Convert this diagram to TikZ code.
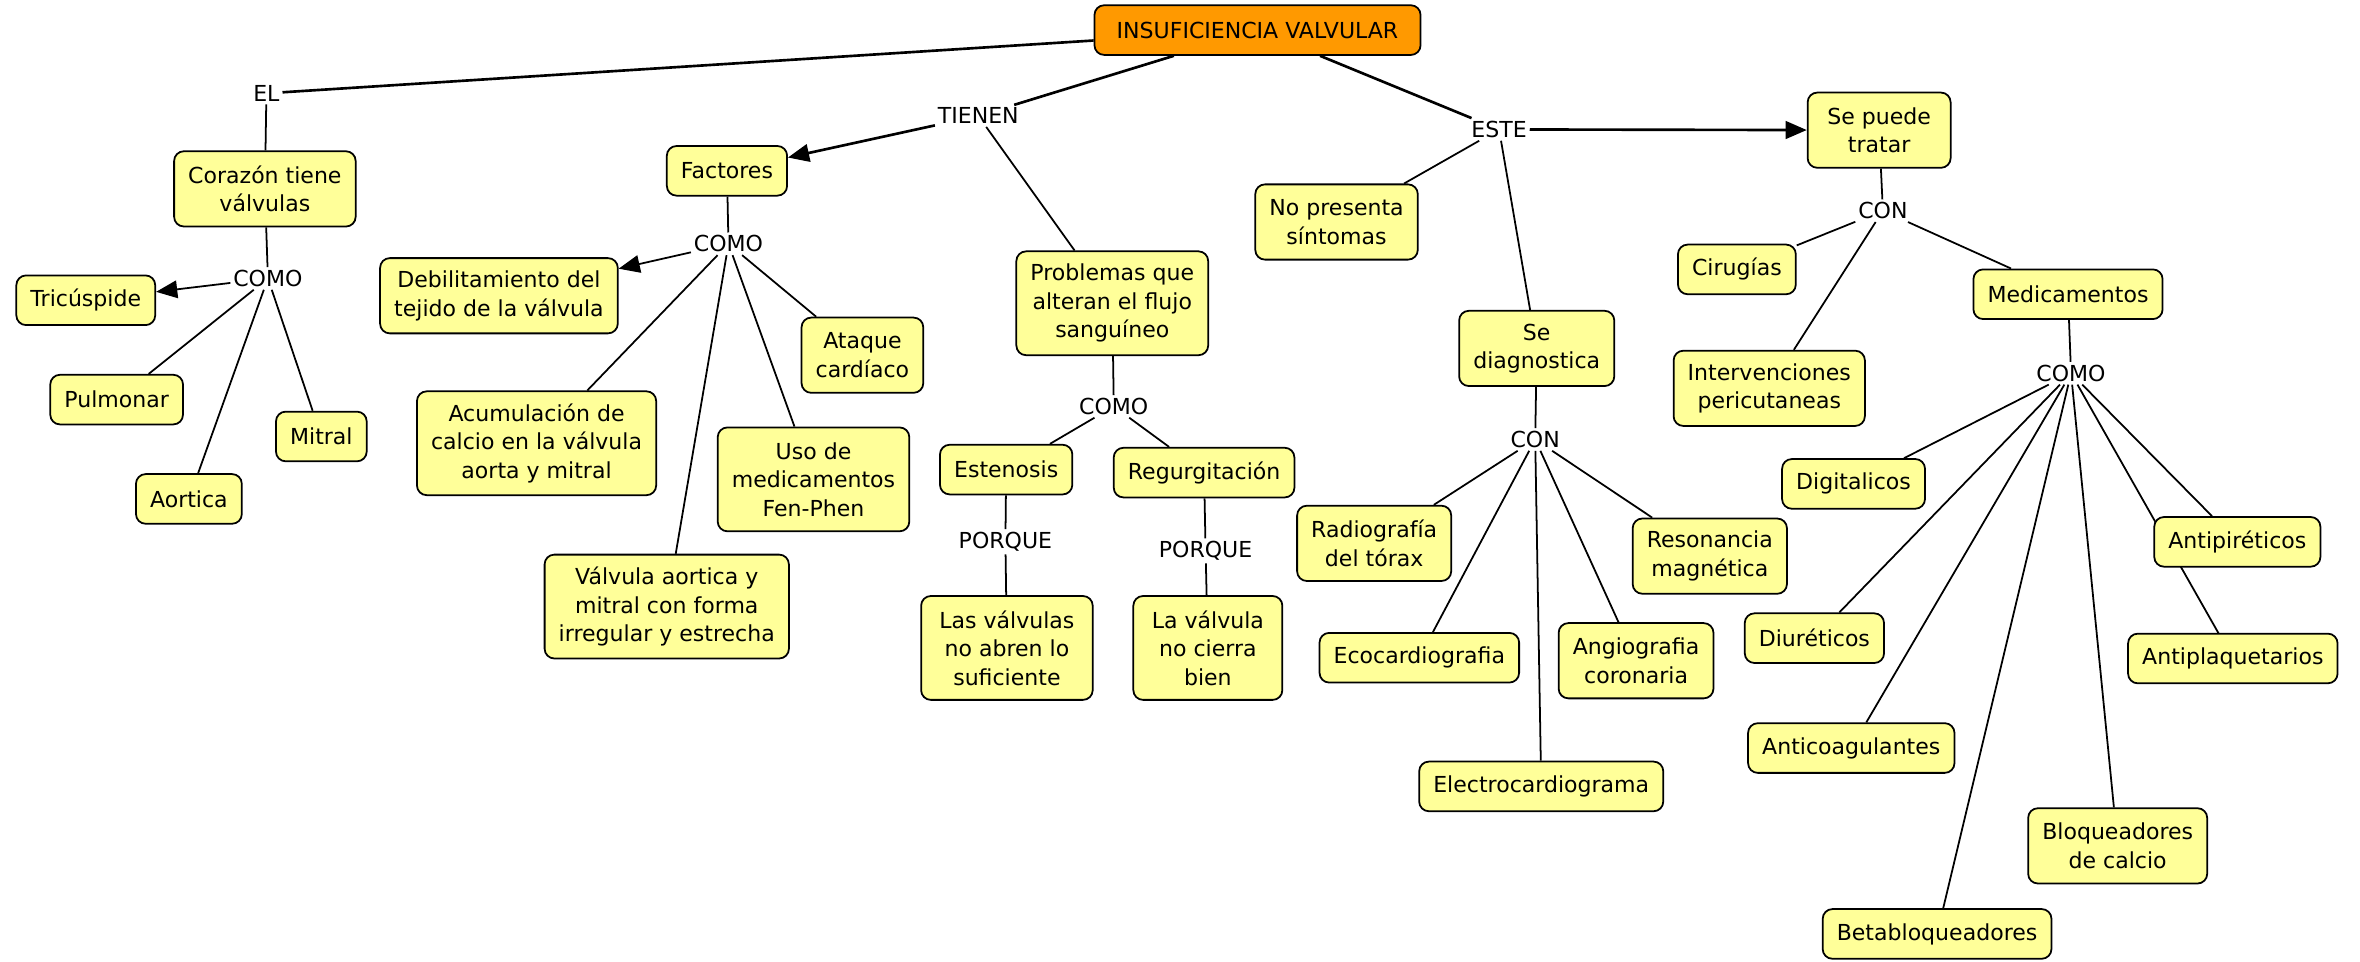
\documentclass[tikz,border=0pt]{standalone}
\usepackage{fontspec}
\setmainfont{DejaVu Sans}
\usetikzlibrary{positioning, arrows.meta, backgrounds}

\definecolor{conceptyellow}{RGB}{255,255,153}
\definecolor{rootorange}{RGB}{255,153,0}

\tikzset{
    concept/.style={draw, line width=1pt, rounded corners=5.5pt, fill=conceptyellow,
        align=center, inner xsep=8pt, inner ysep=4pt, minimum height=0.99cm,
        font=\fontsize{12.5}{16.2}\selectfont},
    two/.style={minimum height=1.5cm},
    three/.style={minimum height=2.07cm},
    root/.style={concept, fill=rootorange},
    linkword/.style={inner sep=1.5pt, font=\fontsize{12.5}{15}\selectfont},
    link/.style={line width=1pt},
    mainlink/.style={line width=1.5pt},
    >={Triangle[length=12pt, width=10pt]}
}

\begin{document}
\begin{tikzpicture}[x=0.3mm, y=-0.3mm]
    \useasboundingbox (0,0) rectangle (1568,638.5);

    % top
    \node[root, minimum width=6.5cm] (root) at (835.5,20) {INSUFICIENCIA VALVULAR};
    \node[linkword] (el) at (177,62) {EL};
    \node[linkword] (tienen) at (650,77) {TIENEN};
    \node[linkword] (este) at (996,86) {ESTE};

    % corazon
    \node[concept, two] (corazon) at (176,125.5) {Corazón tiene\\válvulas};
    \node[linkword] (comoA) at (178,185) {COMO};
    \node[concept] (tricuspide) at (57,199.5) {Tricúspide};
    \node[concept] (pulmonar) at (77.5,265.5) {Pulmonar};
    \node[concept] (aortica) at (125.5,331.5) {Aortica};
    \node[concept] (mitral) at (213.5,290) {Mitral};

    % factores
    \node[concept] (factores) at (483,113.5) {Factores};
    \node[linkword] (comoB) at (484,162) {COMO};
    \node[concept, two] (debilitamiento) at (331.5,196.5) {Debilitamiento del\\tejido de la válvula};
    \node[concept, two] (ataque) at (573,236) {Ataque\\cardíaco};
    \node[concept, three] (acumulacion) at (356.5,294.5) {Acumulación de\\calcio en la válvula\\aorta y mitral};
    \node[concept, three] (fenphen) at (540.5,318.5) {Uso de\\medicamentos\\Fen-Phen};
    \node[concept, three] (irregular) at (443,403) {Válvula aortica y\\mitral con forma\\irregular y estrecha};

    % problemas
    \node[concept, three] (problemas) at (739,201.5) {Problemas que\\alteran el flujo\\sanguíneo};
    \node[linkword] (comoC) at (740,270) {COMO};
    \node[concept] (estenosis) at (668.5,312) {Estenosis};
    \node[concept] (regurgitacion) at (800,314) {Regurgitación};
    \node[linkword] (porqueA) at (668,360) {PORQUE};
    \node[linkword] (porqueB) at (801,366) {PORQUE};
    \node[concept, three, minimum width=3.42cm] (noabren) at (669,430.5) {Las válvulas\\no abren lo\\suficiente};
    \node[concept, three, minimum width=2.97cm] (nocierra) at (802.5,430.5) {La válvula\\no cierra\\bien};

    % diagnostico
    \node[concept, two] (sintomas) at (888,147.5) {No presenta\\síntomas};
    \node[concept, two] (diagnostica) at (1021,231.5) {Se\\diagnostica};
    \node[linkword] (conA) at (1020,292) {CON};
    \node[concept, two] (radiografia) at (913,361) {Radiografía\\del tórax};
    \node[concept] (eco) at (943,437) {Ecocardiografia};
    \node[concept] (electro) at (1024,522.5) {Electrocardiograma};
    \node[concept, two] (angio) at (1087,439) {Angiografia\\coronaria};
    \node[concept, two] (resonancia) at (1136,369.5) {Resonancia\\magnética};

    % tratamiento
    \node[concept, two, minimum width=2.85cm] (tratar) at (1248.5,86.5) {Se puede\\tratar};
    \node[linkword] (conB) at (1251,140) {CON};
    \node[concept] (cirugias) at (1154,179) {Cirugías};
    \node[concept, two] (intervenciones) at (1175.5,258) {Intervenciones\\pericutaneas};
    \node[concept] (medicamentos) at (1374,195.5) {Medicamentos};
    \node[linkword] (comoD) at (1376,248) {COMO};
    \node[concept] (digitalicos) at (1231.5,321.5) {Digitalicos};
    \node[concept] (diureticos) at (1205.5,424) {Diuréticos};
    \node[concept] (anticoag) at (1230,497) {Anticoagulantes};
    \node[concept] (betabloq) at (1287,620.5) {Betabloqueadores};
    \node[concept, two] (bloqcalcio) at (1407,562) {Bloqueadores\\de calcio};
    \node[concept] (antipireticos) at (1486.5,360) {Antipiréticos};
    \node[concept] (antiplaq) at (1483.5,437.5) {Antiplaquetarios};

    \begin{scope}[on background layer]
        \draw[mainlink] (root) -- (el);
        \draw[mainlink] (root) -- (tienen);
        \draw[mainlink] (root) -- (este);
        \draw[mainlink, ->] (este) -- (tratar);
        \draw[mainlink, ->] (tienen) -- (factores);

        \draw[link] (el) -- (corazon);
        \draw[link] (corazon) -- (comoA);
        \draw[link, ->] (comoA) -- (tricuspide);
        \foreach \n in {pulmonar, aortica, mitral}
            \draw[link] (comoA) -- (\n);

        \draw[link] (factores) -- (comoB);
        \draw[link, ->] (comoB) -- (debilitamiento);
        \foreach \n in {ataque, acumulacion, fenphen, irregular}
            \draw[link] (comoB) -- (\n);

        \draw[link] (tienen) -- (problemas);
        \draw[link] (problemas) -- (comoC);
        \draw[link] (comoC) -- (estenosis);
        \draw[link] (comoC) -- (regurgitacion);
        \draw[link] (estenosis) -- (porqueA) -- (noabren);
        \draw[link] (regurgitacion) -- (porqueB) -- (nocierra);

        \draw[link] (este) -- (sintomas);
        \draw[link] (este) -- (diagnostica);
        \draw[link] (diagnostica) -- (conA);
        \foreach \n in {radiografia, eco, electro, angio, resonancia}
            \draw[link] (conA) -- (\n);

        \draw[link] (tratar) -- (conB);
        \foreach \n in {cirugias, intervenciones, medicamentos}
            \draw[link] (conB) -- (\n);
        \draw[link] (medicamentos) -- (comoD);
        \foreach \n in {digitalicos, diureticos, anticoag, betabloq, bloqcalcio, antipireticos}
            \draw[link] (comoD) -- (\n);
        % passes under Antipireticos
        \draw[link] (comoD) -- (antiplaq.center);
    \end{scope}
\end{tikzpicture}
\end{document}
